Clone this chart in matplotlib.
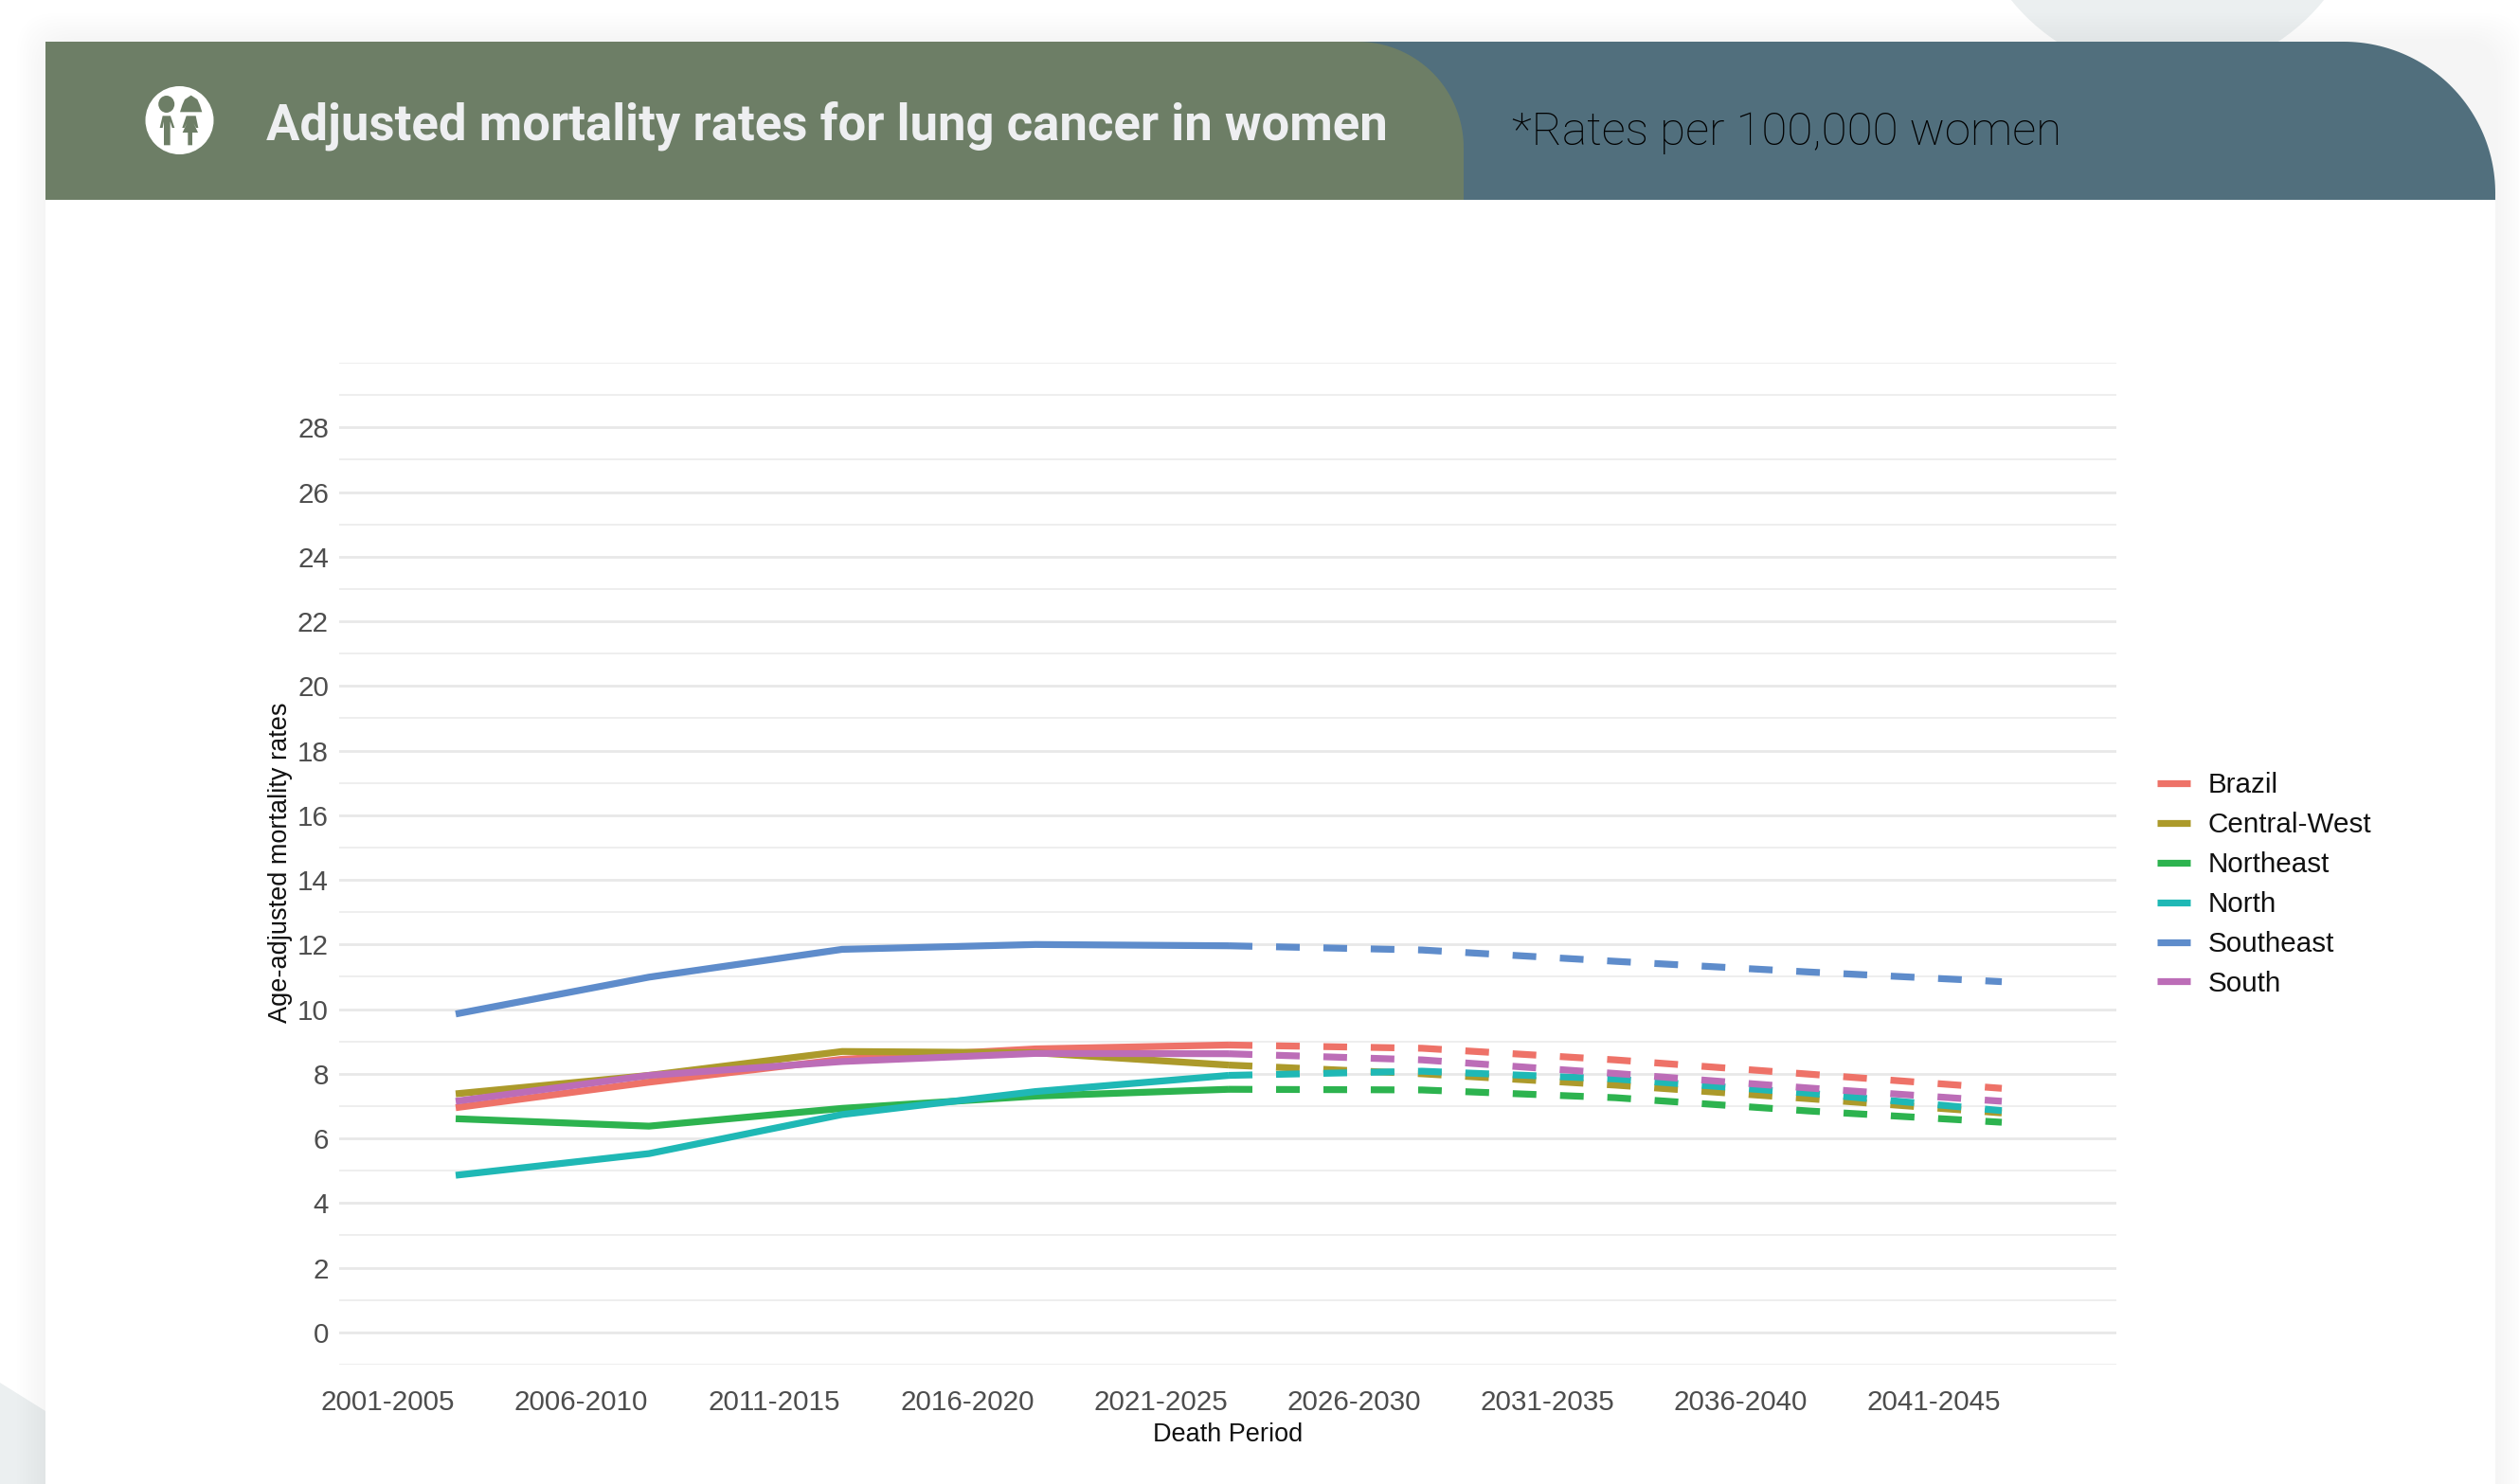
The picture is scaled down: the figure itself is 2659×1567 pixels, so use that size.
import numpy as np
import matplotlib
matplotlib.use('Agg')
from matplotlib import pyplot as plt
from matplotlib.patches import Circle, Ellipse, Polygon, FancyBboxPatch
from matplotlib.lines import Line2D

plt.rcParams['font.family'] = ['Liberation Sans', 'DejaVu Sans']

periods = ['2001-2005', '2006-2010', '2011-2015', '2016-2020', '2021-2025',
           '2026-2030', '2031-2035', '2036-2040', '2041-2045']
regions = ['Brazil', 'Central-West', 'Northeast', 'North', 'Southeast', 'South']
colors = ['#EE7268', '#AC9A2B', '#2DB34F', '#1FB8B5', '#5E8CCB', '#BC6DB7']

brazil = [6.95, 7.74, 8.45, 8.77, 8.89, 8.79, 8.43, 7.99, 7.55]
central_west = [7.38, 7.95, 8.69, 8.65, 8.27, 8.00, 7.65, 7.23, 6.79]
northeast = [6.61, 6.38, 6.93, 7.31, 7.52, 7.50, 7.26, 6.85, 6.50]
north = [4.86, 5.53, 6.74, 7.45, 7.95, 8.08, 7.84, 7.40, 6.86]
southeast = [9.85, 10.99, 11.85, 12.00, 11.96, 11.83, 11.48, 11.15, 10.85]
south = [7.15, 7.95, 8.38, 8.63, 8.62, 8.43, 8.01, 7.56, 7.15]
series = [brazil, central_west, northeast, north, southeast, south]

W, H = 2659, 1567
LW = 5.2
fig = plt.figure(figsize=(W / 100, H / 100), dpi=100, facecolor='white')

# page background, card and header band, in pixel coordinates
bg = fig.add_axes([0, 0, 1, 1], zorder=0)
bg.set_xlim(0, W)
bg.set_ylim(H, 0)
bg.axis('off')

bg.add_patch(Circle((2288, -133), 212, fc='#EBEFF0', ec='none'))
bg.add_patch(Polygon([(0, 1460), (48, 1490), (120, 1567), (0, 1567)], fc='#EBEFF0', ec='none'))

for pad in np.arange(30, 0, -3):
    bg.add_patch(FancyBboxPatch((48 - pad, 44 - pad), 2586 + 2 * pad, 1600, boxstyle='round,pad=0,rounding_size=40',
                                fc='black', ec='none', alpha=0.005))
bg.add_patch(Polygon([(48, 210), (48, 1567), (2634, 1567), (2634, 210)], fc='white', ec='none'))


def tab(x0, x1, y0, y1, r):
    # band with a rounded top right corner
    t = np.linspace(0, np.pi / 2, 60)
    arc = np.column_stack([x1 - r + r * np.sin(t), y0 + r - r * np.cos(t)])
    return np.vstack([[(x0, y1), (x0, y0)], arc, [(x1, y1)]])


def icon_pts(pts):
    # icon outlines are sketched on a 3x grid anchored at (145, 85)
    return [(145 + px / 3, 85 + py / 3) for px, py in pts]


bg.add_patch(Polygon(tab(48, 2634, 44, 211, 160), fc='#516F7D', ec='none'))
bg.add_patch(Polygon(tab(48, 1545, 44, 211, 112), fc='#6D7E66', ec='none'))

# couple icon
olive = '#6D7E66'
boy = [(80, 112), (105, 112), (118, 150), (110, 150), (104, 130), (104, 205), (84, 205), (84, 130), (80, 150), (71, 150)]
hair = [(135, 100), (142, 78), (150, 60), (170, 47), (190, 60), (198, 78), (205, 100)]
dress = [(155, 112), (185, 112), (193, 150), (186, 150), (178, 135), (192, 165), (174, 165), (174, 205), (160, 205),
         (160, 165), (143, 165), (157, 135), (149, 150), (142, 150)]
bg.add_patch(Circle((189.5, 127), 36, fc='white', ec='none'))
bg.add_patch(Ellipse((175.7, 110), 17, 18, fc=olive, ec='none'))
for outline in [boy, hair, dress]:
    bg.add_patch(Polygon(icon_pts(outline), fc=olive, ec='none'))

bg.text(281, 127, 'Adjusted mortality rates for lung cancer in women', family='Roboto', weight='bold',
        fontsize=37.9, color='#EEEFF1', va='center_baseline', ha='left')
bg.text(1596, 134.5, '*Rates per 100,000 women', family='Roboto', weight='light',
        fontsize=35.6, color='black', va='center_baseline', ha='left')

# chart
ax = fig.add_axes([358 / W, 1 - 1441 / H, (2234 - 358) / W, (1441 - 383) / H], zorder=1)
ax.patch.set_alpha(0)
x = np.arange(len(periods))
for values, color in zip(series, colors):
    ax.plot(x[:5], values[:5], color=color, lw=LW, solid_capstyle='butt', solid_joinstyle='round', zorder=3)
    ax.plot(x[4:], values[4:], color=color, lw=LW, linestyle=(0, (3.46, 3.46)), dash_capstyle='butt', zorder=3)

ax.set_xlim(-0.603, 8.593)
ax.set_ylim(-1, 30)
ax.set_xticks(x - 0.35)
ax.set_xticklabels(periods, fontsize=21.3, color='#4D4D4D')
ax.set_yticks(np.arange(0, 29, 2))
ax.set_yticks([-1, 1, 3, 5, 7, 9, 11, 13, 15, 17, 19, 21, 23, 25, 27, 29, 30], minor=True)
ax.tick_params(axis='y', which='major', length=0, labelsize=21.3, labelcolor='#4D4D4D', pad=8)
ax.tick_params(axis='y', which='minor', length=0)
ax.tick_params(axis='x', length=0, pad=19)
ax.grid(True, axis='y', which='major', color='#E8E8E8', lw=2.0)
ax.grid(True, axis='y', which='minor', color='#EDEDED', lw=1.3)
ax.set_axisbelow(True)
for spine in ax.spines.values():
    spine.set_visible(False)

fig.text(1296 / W, 1 - 1514.5 / H, 'Death Period', fontsize=19.5, color='#111111', ha='center', va='center')
fig.text(296 / W, 1 - 911 / H, 'Age-adjusted mortality rates', fontsize=19.5, color='#111111', rotation=90,
         ha='center', va='center')

handles = [Line2D([], [], color=c, lw=LW, solid_capstyle='butt') for c in colors]
ax.legend(handles, regions, loc='center left', bbox_to_anchor=(2277 / W, 1 - 934 / H),
          bbox_transform=fig.transFigure, frameon=False, fontsize=21.3, handlelength=1.18, handletextpad=0.64,
          labelspacing=0.47, borderaxespad=0, borderpad=0, labelcolor='#111111')

fig.savefig('out.png', dpi=100)
